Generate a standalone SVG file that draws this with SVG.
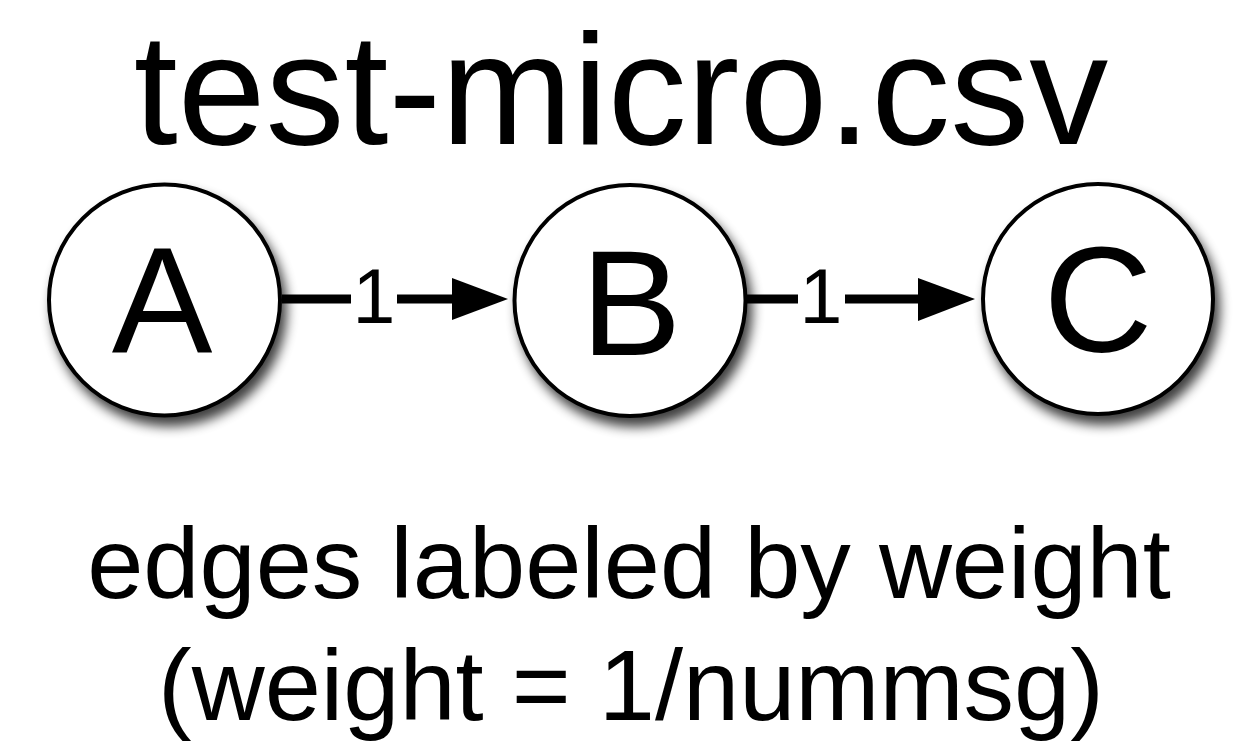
<svg xmlns="http://www.w3.org/2000/svg" width="1258" height="745" viewBox="0 0 1258 745">
<defs>
<filter id="shadow" x="-30%" y="-30%" width="160%" height="160%">
<feGaussianBlur in="SourceAlpha" stdDeviation="6"/>
<feOffset dx="5" dy="9" result="b"/>
<feComponentTransfer><feFuncA type="linear" slope="0.75"/></feComponentTransfer>
<feMerge><feMergeNode/><feMergeNode in="SourceGraphic"/></feMerge>
</filter>
<style>
.node{fill:#fff;stroke:#000;stroke-width:4}
.lbl{font-family:"Liberation Sans",Arial,Helvetica,sans-serif;fill:#000;text-anchor:middle}
.big{font-size:151px}
.edge{stroke:#000;stroke-width:9;fill:none}
.head{fill:#000}
.el{font-size:77px}
</style>
</defs>
<rect width="1258" height="745" fill="#fff"/>
<text class="lbl" x="621" y="144" style="font-size:158px">test-micro.csv</text>
<g id="connectors">
<g id="edge-A-B">
<line class="edge" x1="282" y1="299" x2="351" y2="299"/>
<line class="edge" x1="397" y1="299" x2="456" y2="299"/>
<polygon class="head" points="452,278 508,299 452,320"/>
<text class="lbl el" x="374" y="323">1</text>
</g>
<g id="edge-B-C">
<line class="edge" x1="747" y1="299" x2="798" y2="299"/>
<line class="edge" x1="845" y1="299" x2="922" y2="299"/>
<polygon class="head" points="918,278 975,299 918,321"/>
<text class="lbl el" x="821" y="323">1</text>
</g>
</g>
<g id="node-A">
<circle class="node" cx="164.5" cy="300" r="115.5" filter="url(#shadow)"/>
<text class="lbl big" x="162" y="352">A</text>
</g>
<g id="node-B">
<circle class="node" cx="630" cy="300.5" r="115.5" filter="url(#shadow)"/>
<text class="lbl big" x="631" y="355">B</text>
</g>
<g id="node-C">
<circle class="node" cx="1098" cy="299" r="115" filter="url(#shadow)"/>
<text class="lbl big" x="1098" y="352">C</text>
</g>
<text class="lbl" x="629" y="598" style="font-size:101px">edges labeled by weight</text>
<text class="lbl" x="631" y="720" style="font-size:101px">(weight = 1/nummsg)</text>
</svg>
